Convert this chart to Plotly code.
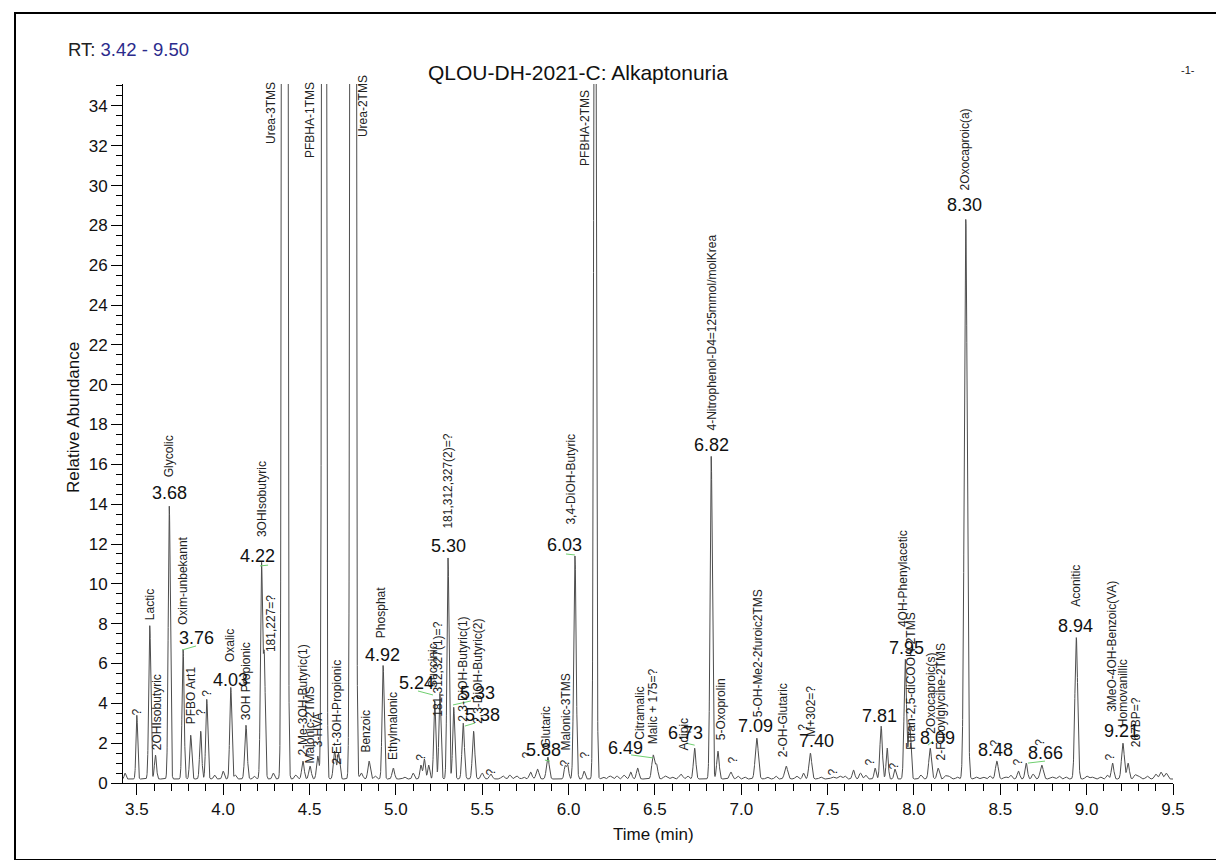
import numpy as np
import plotly.graph_objects as go

# ---------------- data: chromatogram peak table ----------------
peak_rt = [3.432, 3.500, 3.575, 3.608, 3.688, 3.768, 3.812, 3.870, 3.905, 4.000,
           4.044, 4.070, 4.132, 4.222, 4.238, 4.290, 4.356, 4.462, 4.503, 4.548,
           4.584, 4.645, 4.668, 4.752, 4.800, 4.845, 4.926, 4.985, 5.145, 5.165,
           5.190, 5.225, 5.255, 5.302, 5.335, 5.390, 5.450, 5.500, 5.550, 5.620,
           5.700, 5.780, 5.820, 5.880, 5.980, 5.995, 6.037, 6.090, 6.153, 6.240,
           6.320, 6.360, 6.400, 6.490, 6.510, 6.560, 6.650, 6.730, 6.826, 6.865,
           6.940, 7.090, 7.260, 7.360, 7.400, 7.530, 7.570, 7.650, 7.690, 7.775,
           7.810, 7.845, 7.890, 7.950, 7.975, 8.094, 8.140, 8.200, 8.300, 8.400,
           8.480, 8.530, 8.605, 8.650, 8.740, 8.800, 8.940, 9.030, 9.150, 9.210,
           9.240, 9.300, 9.400, 9.430, 9.460,
           3.950, 4.180, 4.420, 4.880, 5.050, 5.100, 5.660, 5.740, 6.200, 6.280,
           6.600, 6.690, 6.980, 7.020, 7.150, 7.200, 7.320, 7.460, 7.600, 7.720,
           8.040, 8.180, 8.250, 8.360, 8.440, 8.560, 8.690, 8.840, 8.880, 9.000,
           9.080, 9.120, 9.280, 9.350]
peak_height = [0.5, 3.4, 7.9, 1.4, 13.9, 6.7, 2.4, 2.6, 4.2, 0.6,
               4.8, 0.4, 2.9, 10.9, 6.3, 0.5, 620.0, 1.1, 0.85, 1.35,
               300.0, 1.6, 1.5, 620.0, 0.5, 1.1, 5.9, 0.75, 0.9, 1.2,
               0.9, 4.1, 4.5, 11.3, 3.8, 3.0, 2.6, 0.5, 0.45, 0.35,
               0.35, 0.55, 0.7, 1.3, 0.85, 0.9, 11.4, 0.6, 60.0, 0.35,
               0.4, 0.55, 0.75, 1.4, 0.9, 0.35, 0.45, 1.75, 16.4, 1.6,
               0.55, 2.25, 0.85, 0.5, 1.5, 0.3, 0.35, 0.65, 0.5, 0.75,
               2.85, 1.75, 0.7, 6.2, 3.0, 1.75, 0.75, 0.35, 28.3, 0.3,
               1.1, 0.3, 0.6, 1.0, 0.9, 0.3, 7.3, 0.3, 1.0, 2.0,
               1.0, 0.35, 0.45, 0.55, 0.5,
               0.4, 0.35, 0.4, 0.35, 0.3, 0.5, 0.4, 0.3, 0.3, 0.35,
               0.3, 0.35, 0.35, 0.3, 0.3, 0.35, 0.35, 0.3, 0.35, 0.4,
               0.4, 0.35, 0.3, 0.3, 0.35, 0.4, 0.45, 0.35, 0.3, 0.35,
               0.3, 0.4, 0.4, 0.35]
peak_sigma = [0.005, 0.005, 0.006, 0.006, 0.006, 0.006, 0.006, 0.006, 0.006, 0.006,
              0.006, 0.006, 0.007, 0.006, 0.006, 0.006, 0.008, 0.007, 0.007, 0.007,
              0.007, 0.007, 0.007, 0.008, 0.008, 0.007, 0.006, 0.007, 0.006, 0.006,
              0.006, 0.006, 0.006, 0.006, 0.006, 0.007, 0.007, 0.008, 0.008, 0.010,
              0.010, 0.008, 0.008, 0.008, 0.006, 0.006, 0.007, 0.006, 0.0065, 0.010,
              0.008, 0.007, 0.007, 0.008, 0.007, 0.010, 0.010, 0.007, 0.0065, 0.007,
              0.008, 0.009, 0.009, 0.006, 0.008, 0.010, 0.010, 0.007, 0.007, 0.006,
              0.007, 0.006, 0.006, 0.007, 0.007, 0.008, 0.007, 0.010, 0.0085, 0.010,
              0.008, 0.010, 0.007, 0.007, 0.009, 0.010, 0.008, 0.010, 0.007, 0.008,
              0.007, 0.010, 0.008, 0.008, 0.008,
              0.006, 0.006, 0.007, 0.007, 0.007, 0.006, 0.007, 0.007, 0.008, 0.007,
              0.008, 0.007, 0.007, 0.007, 0.008, 0.007, 0.008, 0.008, 0.007, 0.007,
              0.007, 0.007, 0.007, 0.008, 0.007, 0.007, 0.007, 0.008, 0.007, 0.008,
              0.007, 0.007, 0.007, 0.008]
baseline_level = 0.2

# compound name labels
name_text = ["?", "Lactic", "2OHIsobutyric", "Glycolic", "Oxim-unbekannt", "PFBO Art1", "?", "?",
             "Oxalic", "3OH Propionic", "3OHIsobutyric", "181,227=?", "Urea-3TMS",
             "2-Me-3OH-Butyric(1)", "Malonic-2TMS", "3-HVA", "PFBHA-1TMS", "2-Et-3OH-Propionic",
             "Urea-2TMS", "Benzoic", "Phosphat", "Ethylmalonic", "?", "Succinic",
             "181,312,327(1)=?", "181,312,327(2)=?", "2,3-DiOH-Butyric(1)", "2,3-DiOH-Butyric(2)",
             "?", "?", "Glutaric", "?", "Malonic-3TMS", "3,4-DiOH-Butyric", "?", "PFBHA-2TMS",
             "Citramalic", "Malic + 175=?", "Adipic", "4-Nitrophenol-D4=125mmol/molKrea",
             "5-Oxoprolin", "?", "5-OH-Me2-2furoic2TMS", "2-OH-Glutaric", "?", "M+302=?", "?", "?", "?",
             "4OH-Phenylacetic", "Furan-2,5-diCOOH-2TMS", "2Oxocaproic(s)", "2-Furoylglycine-2TMS",
             "2Oxocaproic(a)", "?", "?", "?", "Aconitic", "?", "3MeO-4OH-Benzoic(VA)",
             "Homovanillic", "267BP=?"]
# retention-time labels
rt_label_text = ["3.68", "3.76", "4.03", "4.22", "4.92", "5.24", "5.30", "5.33", "5.38", "5.88",
                 "6.03", "6.49", "6.73", "6.82", "7.09", "7.40", "7.81", "7.95", "8.09", "8.30",
                 "8.48", "8.66", "8.94", "9.21"]
x_ticks = [3.5, 4.0, 4.5, 5.0, 5.5, 6.0, 6.5, 7.0, 7.5, 8.0, 8.5, 9.0, 9.5]
y_ticks = list(range(0, 35, 2))

# ---------------- label layout (placement only) ----------------
name_pos = [(3.500, 3.35, 'b'), (3.576, 8.15, 'b'), (3.617, 1.6, 'b'), (3.686, 15.3, 'b'),
            (3.767, 7.9, 'b'), (3.814, 2.9, 'b'), (3.872, 3.3, 'b'), (3.906, 4.3, 'b'),
            (4.040, 6.0, 'b'), (4.132, 3.1, 'b'), (4.225, 12.3, 'b'), (4.277, 6.5, 'b'),
            (4.277, 35.25, 't'), (4.462, 1.35, 'b'), (4.503, 0.9, 'b'), (4.549, 1.75, 'b'),
            (4.503, 35.25, 't'), (4.659, 0.9, 'b'), (4.810, 35.6, 't'), (4.827, 1.5, 'b'),
            (4.914, 7.2, 'b'), (4.983, 1.1, 'b'), (5.146, 1.05, 'b'), (5.215, 4.75, 'b'),
            (5.244, 3.25, 'b'), (5.302, 12.7, 'b'), (5.389, 3.0, 'b'), (5.476, 2.9, 'b'),
            (5.550, 0.35, 'b'), (5.759, 1.2, 'b'), (5.869, 1.75, 'b'), (5.979, 0.8, 'b'),
            (5.985, 1.6, 'b'), (6.014, 12.95, 'b'), (6.095, 1.2, 'b'), (6.095, 34.85, 't'),
            (6.414, 2.1, 'b'), (6.489, 1.9, 'b'), (6.668, 1.6, 'b'), (6.825, 17.65, 'b'),
            (6.883, 2.1, 'b'), (6.952, 0.95, 'b'), (7.097, 3.25, 'b'), (7.242, 1.25, 'b'),
            (7.357, 2.6, 'b'), (7.404, 2.25, 'b'), (7.531, 0.35, 'b'), (7.745, 0.85, 'b'),
            (7.879, 0.6, 'b'), (7.936, 7.8, 'b'), (7.983, 1.6, 'b'), (8.099, 2.4, 'b'),
            (8.156, 1.1, 'b'), (8.295, 29.7, 'b'), (8.469, 1.8, 'b'), (8.602, 0.85, 'b'),
            (8.730, 1.8, 'b'), (8.938, 8.8, 'b'), (9.135, 1.1, 'b'), (9.147, 3.5, 'b'),
            (9.210, 2.75, 'b'), (9.286, 1.75, 'b')]
rt_label_pos = [(3.690, 14.55), (3.848, 7.3), (4.040, 5.15), (4.200, 11.4), (4.925, 6.45),
                (5.120, 5.0), (5.302, 11.9), (5.475, 4.5), (5.504, 3.4), (5.852, 1.65),
                (5.979, 11.95), (6.327, 1.75), (6.680, 2.5), (6.825, 16.95), (7.085, 2.85),
                (7.433, 2.1), (7.803, 3.35), (7.954, 6.8), (8.139, 2.25), (8.295, 29.0),
                (8.475, 1.65), (8.759, 1.5), (8.938, 7.9), (9.199, 2.6)]
connectors = [(3.762, 6.68, 3.843, 6.88), (4.213, 10.9, 4.26, 10.94), (5.128, 4.62, 5.215, 4.42),
              (5.331, 3.92, 5.435, 4.12), (5.40, 2.86, 5.458, 3.01), (5.863, 1.15, 5.892, 1.1),
              (5.985, 11.5, 6.037, 11.45), (6.362, 1.41, 6.489, 1.26), (6.68, 2.0, 6.73, 1.9),
              (8.081, 1.9, 8.11, 2.1), (8.66, 1.0, 8.759, 1.1)]

Y_MAX = 35.1
PX_PER_UNIT = 699 / Y_MAX

# ---------------- build trace ----------------
t = np.arange(3.42, 9.5002, 0.0005)
signal = np.full_like(t, baseline_level)
for rt, h, s in zip(peak_rt, peak_height, peak_sigma):
    signal += (h - baseline_level) * np.exp(-0.5 * ((t - rt) / s) ** 2)

FONT = "Arial, Liberation Sans, sans-serif"
fig = go.Figure()
fig.add_trace(go.Scatter(x=t, y=signal, mode="lines",
                         line=dict(color="#4d4d4d", width=1), hoverinfo="skip",
                         showlegend=False))

ann = []
for txt, (x, y, a) in zip(name_text, name_pos):
    yshift = 0
    if y > Y_MAX - 0.02:
        yshift = (y - (Y_MAX - 0.02)) * PX_PER_UNIT
        y = Y_MAX - 0.02
    ann.append(dict(x=x, y=y, xref="x", yref="y", text=txt, textangle=-90, showarrow=False,
                    xanchor="center", yanchor="bottom" if a == 'b' else "top", yshift=yshift,
                    font=dict(family=FONT, size=12, color="#222222"), borderpad=0))
for txt, (x, y) in zip(rt_label_text, rt_label_pos):
    ann.append(dict(x=x, y=y, xref="x", yref="y", text=txt, showarrow=False,
                    xanchor="center", yanchor="middle",
                    font=dict(family=FONT, size=18, color="#111111"), borderpad=0))

# page texts
L, R, T, B = 115, 1165, 76, 775
W, H = R - L, B - T
def px(x):
    return (x - L) / W
def py(y):
    return (B - y) / H

ann.append(dict(x=px(570), y=py(64), xref="paper", yref="paper", showarrow=False,
                text="QLOU-DH-2021-C: Alkaptonuria", xanchor="center", yanchor="middle",
                font=dict(family=FONT, size=21, color="#111111")))
ann.append(dict(x=px(58), y=py(42), xref="paper", yref="paper", showarrow=False,
                text="RT: <span style='color:#2b2b8c'>3.42 - 9.50</span>",
                xanchor="left", yanchor="middle",
                font=dict(family=FONT, size=18.5, color="#222222")))
ann.append(dict(x=px(1180), y=py(62), xref="paper", yref="paper", showarrow=False,
                text="-1-", xanchor="center", yanchor="middle",
                font=dict(family=FONT, size=11, color="#222222")))
ann.append(dict(x=px(65), y=py(410), xref="paper", yref="paper", showarrow=False,
                text="Relative Abundance", textangle=-90, xanchor="center", yanchor="middle",
                font=dict(family=FONT, size=17, color="#111111")))
ann.append(dict(x=px(645), y=py(826), xref="paper", yref="paper", showarrow=False,
                text="Time (min)", xanchor="center", yanchor="middle",
                font=dict(family=FONT, size=17, color="#111111")))

shapes = [dict(type="rect", xref="paper", yref="paper", x0=px(7), x1=px(1217),
               y0=py(852), y1=py(5), line=dict(color="black", width=2))]
for x0, y0, x1, y1 in connectors:
    shapes.append(dict(type="line", xref="x", yref="y", x0=x0, y0=y0, x1=x1, y1=y1,
                       line=dict(color="#6fcf6f", width=1)))

fig.update_layout(
    width=1224, height=860,
    margin=dict(l=L, r=1224 - R, t=T, b=860 - B),
    paper_bgcolor="white", plot_bgcolor="white",
    annotations=ann, shapes=shapes, showlegend=False,
    xaxis=dict(range=[3.42, 9.50], tickmode="array", tickvals=x_ticks,
               ticktext=[f"{v:.1f}" for v in x_ticks],
               ticks="outside", ticklen=11, tickcolor="black", tickwidth=1,
               showline=True, linecolor="black", linewidth=1, showgrid=False, zeroline=False,
               tickfont=dict(family=FONT, size=17, color="#111111"),
               minor=dict(dtick=0.1, tick0=3.5, ticks="outside", ticklen=7,
                          tickcolor="black", showgrid=False)),
    yaxis=dict(range=[0, Y_MAX], tickmode="array", tickvals=y_ticks,
               ticktext=[str(v) for v in y_ticks],
               ticks="outside", ticklen=11, tickcolor="black", tickwidth=1,
               showline=True, linecolor="black", linewidth=1, showgrid=False, zeroline=False,
               tickfont=dict(family=FONT, size=17, color="#111111"),
               minor=dict(dtick=0.5, tick0=0, ticks="outside", ticklen=6,
                          tickcolor="black", showgrid=False)),
)

fig.write_html("out.html")
